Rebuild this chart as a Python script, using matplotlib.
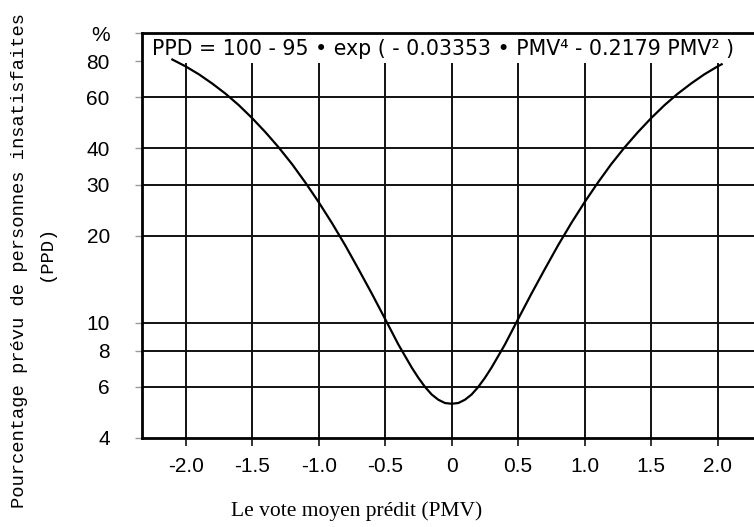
import matplotlib.pyplot as plt
from matplotlib.ticker import FixedLocator, NullLocator

plt.rcParams['font.family'] = ['Liberation Sans', 'DejaVu Sans']

# PMV / PPD points
pmv = [-2.1, -2.0, -1.9, -1.8, -1.7, -1.6, -1.5, -1.4, -1.3, -1.2, -1.1,
       -1.0, -0.9, -0.8, -0.7, -0.6, -0.5, -0.4, -0.3, -0.25, -0.2, -0.15,
       -0.1, -0.05, 0.0, 0.05, 0.1, 0.15, 0.2, 0.25, 0.3, 0.4, 0.5, 0.6,
       0.7, 0.8, 0.9, 1.0, 1.1, 1.2, 1.3, 1.4, 1.5, 1.6, 1.7, 1.8, 1.9,
       2.0, 2.03]
ppd = [81.1, 76.8, 72.1, 67.0, 61.8, 56.4, 50.9, 45.5, 40.3, 35.3, 30.5,
       26.1, 22.1, 18.5, 15.3, 12.6, 10.3, 8.4, 7.0, 6.45, 6.0, 5.65,
       5.42, 5.28, 5.25, 5.28, 5.42, 5.65, 6.0, 6.45, 7.0, 8.4, 10.3, 12.6,
       15.3, 18.5, 22.1, 26.1, 30.5, 35.3, 40.3, 45.5, 50.9, 56.4, 61.8, 67.0, 72.1,
       76.8, 78.1]

x_ticks = [-2.0, -1.5, -1.0, -0.5, 0.0, 0.5, 1.0, 1.5, 2.0]
x_labels = ['-2.0', '-1.5', '-1.0', '-0.5', '0', '0.5', '1.0', '1.5', '2.0']
y_ticks = [4, 6, 8, 10, 20, 30, 40, 60, 80, 100]
y_labels = ['4', '6', '8', '10', '20', '30', '40', '60', '80', '%']
h_grid = [6, 8, 10, 20, 30, 40, 60]

fig = plt.figure(figsize=(7.54, 5.27), dpi=100)
ax = fig.add_axes([0.188, 0.169, 0.822, 0.768])

ax.set_yscale('log')
ax.set_xlim(-2.33, 2.33)
ax.set_ylim(4, 100)

# grid
ax.hlines(h_grid, -2.33, 2.33, color='#111111', lw=1.4, zorder=1)
ax.vlines(x_ticks, 4, 79, color='#111111', lw=1.4, zorder=1)

ax.plot(pmv, ppd, color='black', lw=1.6, zorder=3)

ax.text(-2.25, 88.5, 'PPD = 100 - 95 \u2022 exp ( - 0.03353 \u2022 PMV\u2074 - 0.2179 PMV\u00b2 )',
        fontsize=14.8, family='DejaVu Sans', ha='left', va='center', zorder=4)

ax.yaxis.set_major_locator(FixedLocator(y_ticks))
ax.yaxis.set_minor_locator(NullLocator())
ax.set_yticklabels(y_labels)
ax.set_xticks(x_ticks)
ax.set_xticklabels(x_labels)
ax.tick_params(axis='y', length=5, width=1, color='#999999', pad=18, labelsize=15)
ax.tick_params(axis='x', length=6, width=1.2, color='#111111', pad=8, labelsize=15)

for s in ['left', 'bottom', 'top']:
    ax.spines[s].set_linewidth(2)
ax.spines['right'].set_visible(False)

fig.text(0.473, 0.03, 'Le vote moyen prédit (PMV)', fontsize=15.5,
         family='Liberation Serif', ha='center', va='center')
fig.text(0.026, 0.505, 'Pourcentage prévu de personnes insatisfaites', fontsize=13.5,
         family='Liberation Mono', rotation=90, ha='center', va='center')
fig.text(0.062, 0.52, '(PPD)', fontsize=13.5,
         family='Liberation Mono', rotation=90, ha='center', va='center')

fig.savefig('out.png', dpi=100)
